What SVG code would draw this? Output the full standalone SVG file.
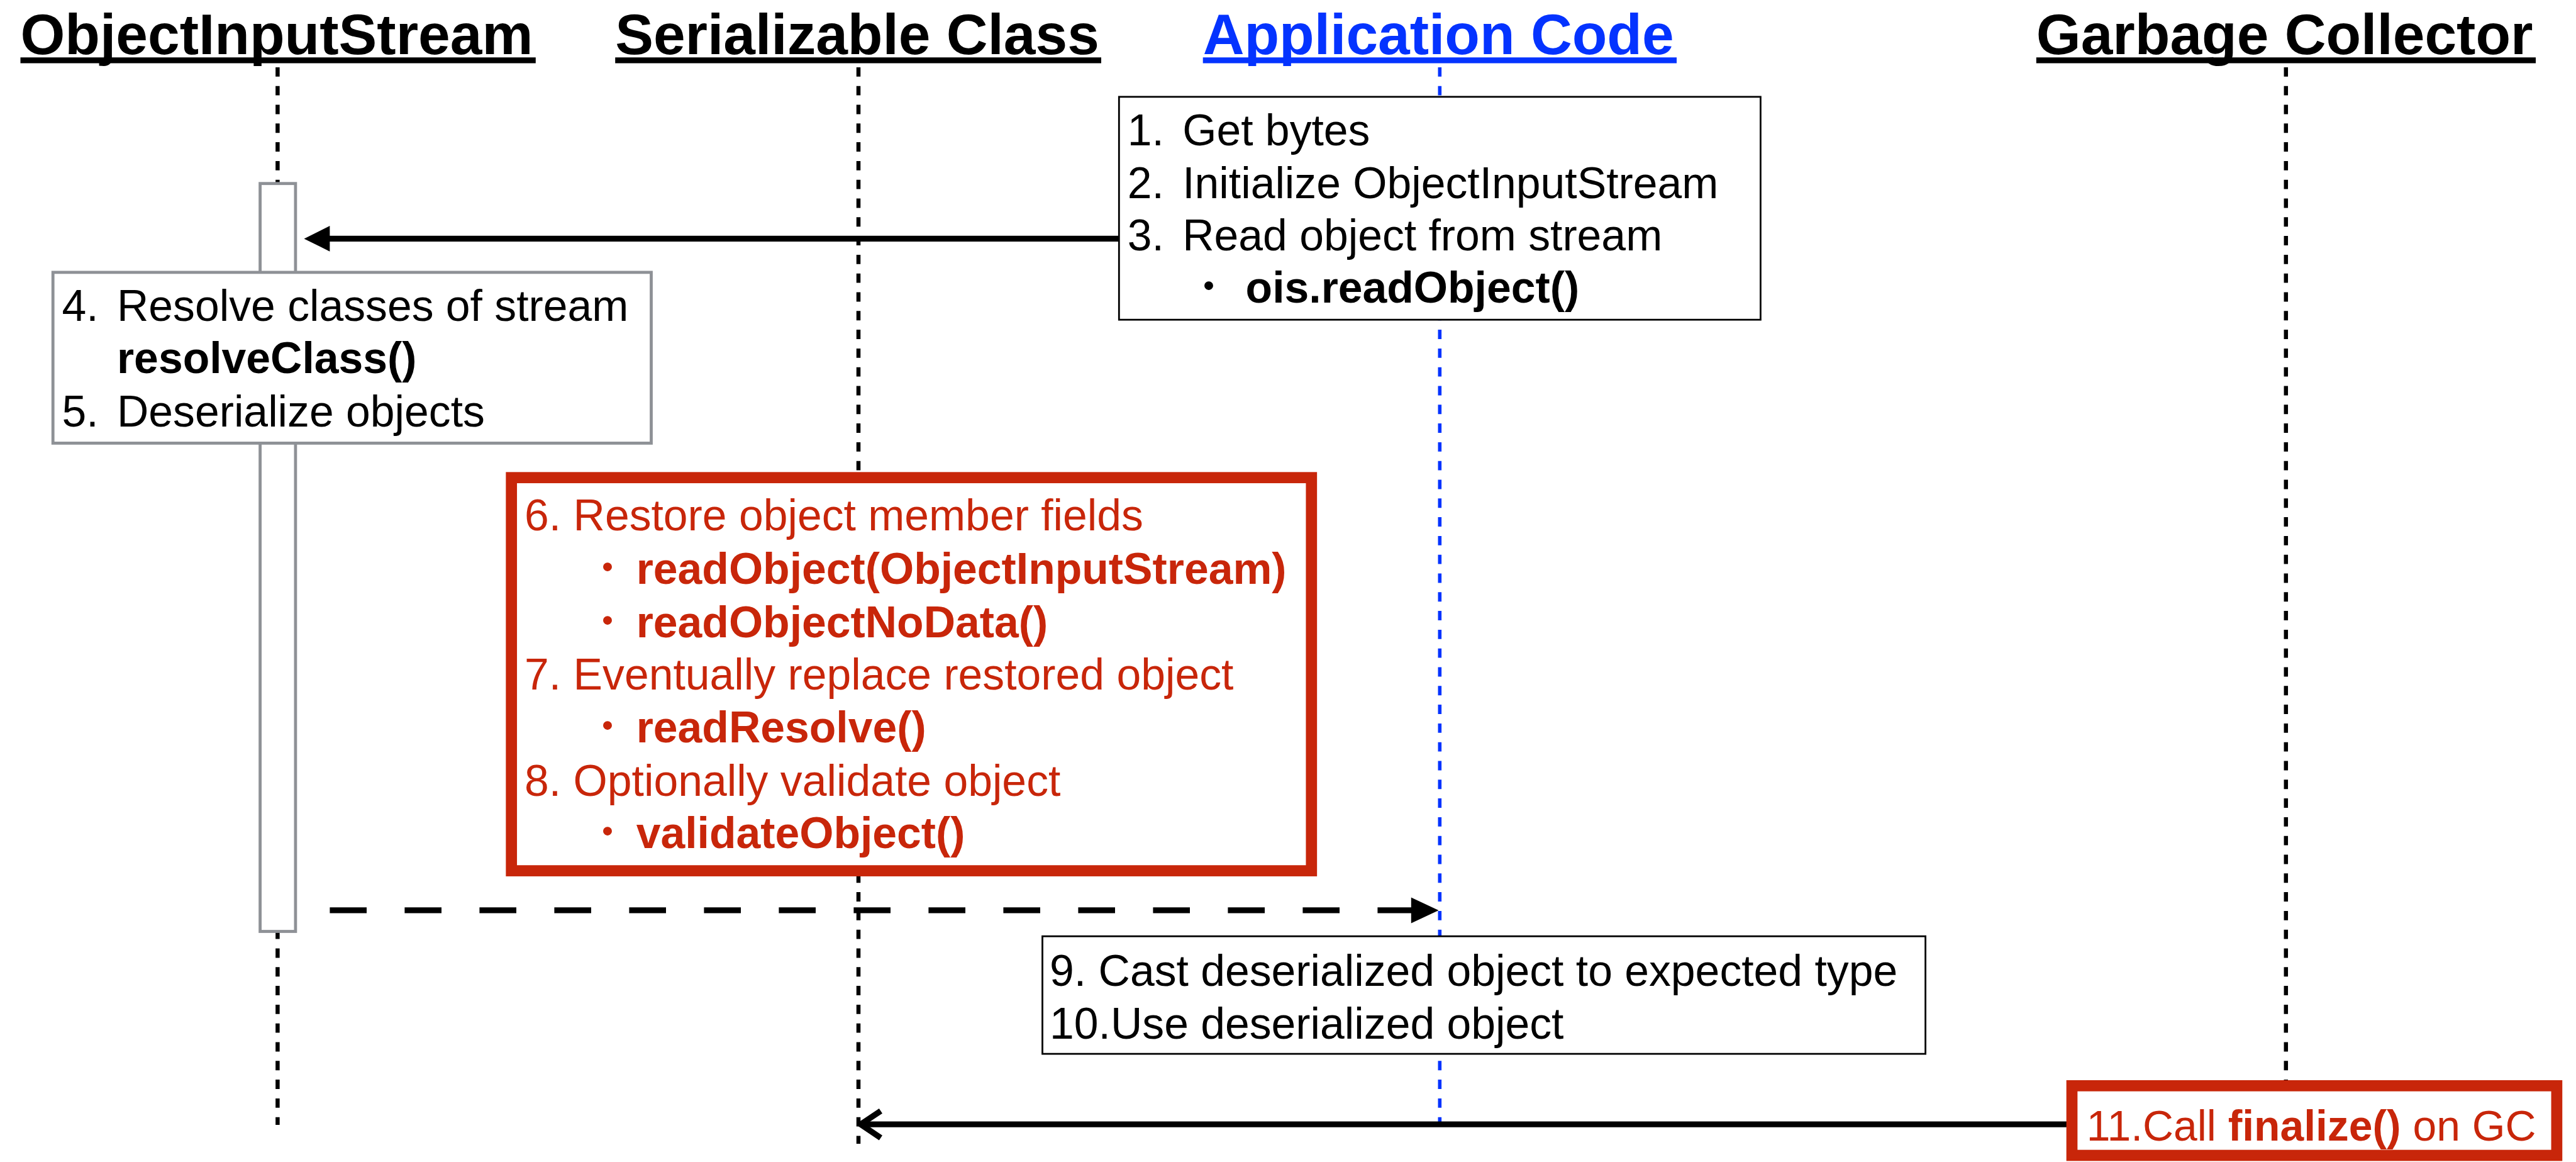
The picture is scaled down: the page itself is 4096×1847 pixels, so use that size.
<svg xmlns="http://www.w3.org/2000/svg" width="4096" height="1847" viewBox="0 0 4096 1847">
<style>
text{font-family:"Liberation Sans",Arial,Helvetica,sans-serif;}
.title{font-size:91.1px;font-weight:bold;fill:#000;}
.blue{fill:#0433ff;}
.ul{stroke:#000;stroke-width:9.3;}
.ulb{stroke:#0433ff;stroke-width:9.3;}
.body{font-size:69.7px;fill:#000;}
.red{fill:#c8260a;}
.b{font-weight:bold;}
.dot{font-family:"Noto Sans CJK JP","Noto Sans CJK SC",sans-serif;font-size:54px;font-weight:bold;text-anchor:middle;}
.life{stroke:#000;stroke-width:6.5;stroke-dasharray:14.9 14.9;fill:none;}
.lifeb{stroke:#0433ff;stroke-width:5.6;stroke-dasharray:14.9 14.9;fill:none;}
.box{fill:#fff;stroke:#000;stroke-width:2.8;}
.gbox{fill:#fff;stroke:#8e9196;stroke-width:4.8;}
.rbox{fill:#fff;stroke:#c8260a;stroke-width:17.7;}
.msg{stroke:#000;stroke-width:9.3;fill:none;}
</style>
<rect x="0" y="0" width="4096" height="1847" fill="#fff"/>

<g id="ObjectInputStream">
<text class="title" x="32.5" y="85.5">ObjectInputStream</text>
<line class="ul" x1="32.5" y1="95.8" x2="851.8" y2="95.8"/>
<line class="life" x1="441.4" y1="106.9" x2="441.4" y2="1788.1"/>
</g>
<g id="SerializableClass">
<text class="title" x="978.2" y="85.5">Serializable Class</text>
<line class="ul" x1="978.2" y1="95.8" x2="1751" y2="95.8"/>
<line class="life" x1="1365" y1="106.9" x2="1365" y2="1817.9"/>
</g>
<g id="ApplicationCode">
<text class="title blue" x="1912.7" y="85.5">Application Code</text>
<line class="ulb" x1="1912.7" y1="95.8" x2="2666" y2="95.8"/>
<line class="lifeb" x1="2289.3" y1="106.9" x2="2289.3" y2="1788.1"/>
</g>
<g id="GarbageCollector">
<text class="title" x="3237.8" y="85.5">Garbage Collector</text>
<line class="ul" x1="3237.8" y1="95.8" x2="4032" y2="95.8"/>
<line class="life" x1="3634.8" y1="106.9" x2="3634.8" y2="1717.5"/>
</g>

<g id="activation">
<rect class="gbox" x="413.6" y="291.7" width="56.3" height="1188.8"/>
</g>

<g id="connectors">
<line class="msg" x1="1778" y1="379.4" x2="520" y2="379.4"/>
<polygon points="483.5,379.4 524.4,359 524.4,399.8" fill="#000"/>
<line class="msg" x1="524.4" y1="1446.9" x2="2249" y2="1446.9" stroke-dasharray="58.6 60.4"/>
<polygon points="2287.5,1446.9 2243.8,1426.4 2243.8,1467.4" fill="#000"/>
<line class="msg" x1="3294.5" y1="1787.2" x2="1368" y2="1787.2"/>
<polyline class="msg" points="1400.4,1765.8 1368.5,1787.2 1400.4,1808.6" stroke-linejoin="round"/>
</g>

<g id="note-app">
<rect class="box" x="1779.3" y="153.9" width="1020.1" height="354.3"/>
<text class="body" y="231.2"><tspan x="1792.8">1.</tspan><tspan x="1880.2">Get bytes</tspan></text>
<text class="body" y="314.9"><tspan x="1792.8">2.</tspan><tspan x="1880.2">Initialize ObjectInputStream</tspan></text>
<text class="body" y="398"><tspan x="1792.8">3.</tspan><tspan x="1880.2">Read object from stream</tspan></text>
<text class="dot" x="1922" y="475">・</text>
<text class="body b" x="1980.6" y="481.2">ois.readObject()</text>
</g>

<g id="note-ois">
<rect class="gbox" x="84.2" y="432.9" width="951.3" height="271.5"/>
<text class="body" y="509.6"><tspan x="98.6">4.</tspan><tspan x="186">Resolve classes of stream</tspan></text>
<text class="body b" x="186" y="593.2">resolveClass()</text>
<text class="body" y="677.9"><tspan x="98.6">5.</tspan><tspan x="186">Deserialize objects</tspan></text>
</g>

<g id="note-serializable">
<rect class="rbox" x="813.2" y="759.2" width="1272.1" height="624.9"/>
<text class="body red" x="834.1" y="843.4">6. Restore object member fields</text>
<text class="dot red" x="966.1" y="922">・</text>
<text class="body red b" x="1011.7" y="928">readObject(ObjectInputStream)</text>
<text class="dot red" x="966.1" y="1006.6">・</text>
<text class="body red b" x="1011.7" y="1012.6">readObjectNoData()</text>
<text class="body red" x="834.1" y="1096.3">7. Eventually replace restored object</text>
<text class="dot red" x="966.1" y="1174">・</text>
<text class="body red b" x="1011.7" y="1180">readResolve()</text>
<text class="body red" x="834.1" y="1264.6">8. Optionally validate object</text>
<text class="dot red" x="966.1" y="1342.3">・</text>
<text class="body red b" x="1011.7" y="1348.3">validateObject()</text>
</g>

<g id="note-use">
<rect class="box" x="1657.5" y="1488.2" width="1404.1" height="186.9"/>
<text class="body" x="1669.1" y="1566.8">9. Cast deserialized object to expected type</text>
<text class="body" x="1669.1" y="1650.5">10.Use deserialized object</text>
</g>

<g id="note-gc">
<rect class="rbox" x="3294.5" y="1725.8" width="770.9" height="110.7"/>
<text class="body red" x="3317.8" y="1813.2" style="font-size:67.8px">11.Call <tspan class="b">finalize()</tspan> on GC</text>
</g>
</svg>
